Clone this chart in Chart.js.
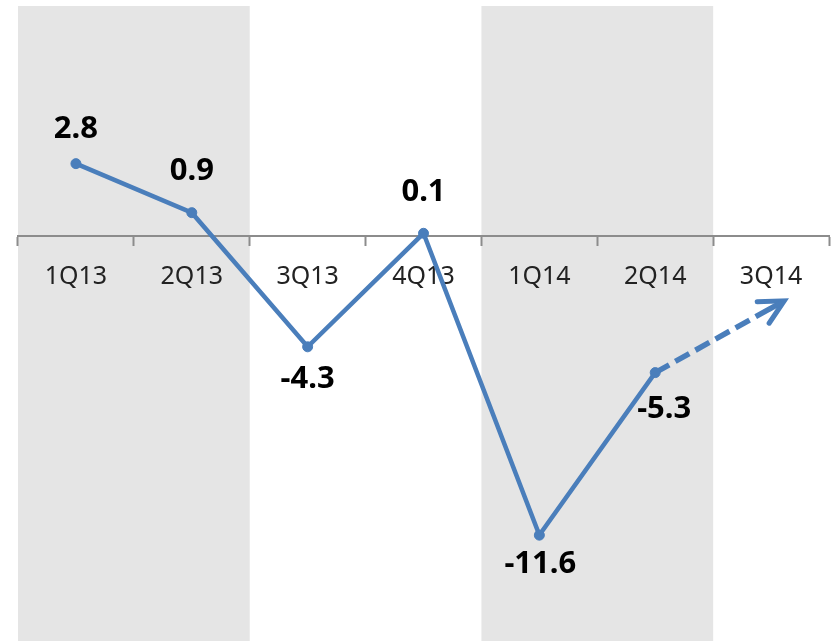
<!DOCTYPE html>
<html>
<head>
<meta charset="utf-8">
<script src="https://cdn.jsdelivr.net/npm/chart.js@4.4.1/dist/chart.umd.min.js"></script>
<style>
  html, body { margin: 0; padding: 0; background: #fff; }
  #wrap { width: 837px; height: 641px; position: relative; }
</style>
</head>
<body>
<div id="wrap"><canvas id="myChart"></canvas></div>
<script>
let quarters = ['1Q13', '2Q13', '3Q13', '4Q13', '1Q14', '2Q14', '3Q14'];
let actual = [2.8, 0.9, -4.3, 0.1, -11.6, -5.3, null];
let outlook = [null, null, null, null, null, -5.3, -2.8];
// shaded quarter pairs
let bands = [[0, 1], [4, 5]];

// vertical/horizontal nudge of each value label from its point
let labelDy = [-34, -41, 32, -41, 29, 37];
let labelDx = [0, 0, 0, 0, 1, 9];

let blue = '#4A7EBB';

let bandPlugin = {
  id: 'bands',
  beforeDraw(chart) {
    let ctx = chart.ctx;
    let x = chart.scales.x;
    let area = chart.chartArea;
    let half = (x.getPixelForValue(1) - x.getPixelForValue(0)) / 2;
    ctx.save();
    ctx.fillStyle = '#e5e5e5';
    for (let i = 0; i < bands.length; i++) {
      let x1 = x.getPixelForValue(bands[i][0]) - half;
      let x2 = x.getPixelForValue(bands[i][1]) + half;
      ctx.fillRect(x1, area.top, x2 - x1, chart.height - area.top);
    }
    ctx.restore();
  }
};

let labelPlugin = {
  id: 'valueLabels',
  afterDatasetsDraw(chart) {
    let ctx = chart.ctx;
    let meta = chart.getDatasetMeta(0);
    ctx.save();
    ctx.font = 'bold 31px "Noto Sans", sans-serif';
    ctx.fillStyle = '#000';
    ctx.textAlign = 'center';
    ctx.textBaseline = 'middle';
    for (let i = 0; i < actual.length; i++) {
      if (actual[i] === null) continue;
      let pt = meta.data[i];
      ctx.fillText(actual[i].toFixed(1), pt.x + labelDx[i], pt.y + labelDy[i]);
    }
    ctx.restore();

    // arrow head on the end of the dashed outlook line
    let m2 = chart.getDatasetMeta(1);
    let last = outlook.length - 1;
    let a = m2.data[last - 1];
    let b = m2.data[last];
    let ang = Math.atan2(b.y - a.y, b.x - a.x);
    let tipX = b.x + Math.cos(ang) * 15;
    let tipY = b.y + Math.sin(ang) * 15;
    let len = 27;
    let spread = 27 * Math.PI / 180;
    ctx.save();
    ctx.strokeStyle = blue;
    ctx.lineWidth = 5;
    ctx.lineCap = 'round';
    ctx.lineJoin = 'miter';
    ctx.beginPath();
    ctx.moveTo(tipX - Math.cos(ang - spread) * len, tipY - Math.sin(ang - spread) * len);
    ctx.lineTo(tipX, tipY);
    ctx.lineTo(tipX - Math.cos(ang + spread) * len, tipY - Math.sin(ang + spread) * len);
    ctx.stroke();
    ctx.lineCap = 'butt';
    ctx.lineWidth = 5.5;
    ctx.beginPath();
    ctx.moveTo(b.x - Math.cos(ang) * 2, b.y - Math.sin(ang) * 2);
    ctx.lineTo(tipX - Math.cos(ang) * 3, tipY - Math.sin(ang) * 3);
    ctx.stroke();
    ctx.restore();
  }
};

let chart = new Chart(document.getElementById('myChart'), {
  type: 'line',
  data: {
    labels: quarters,
    datasets: [
      {
        data: actual,
        borderColor: blue,
        backgroundColor: blue,
        borderWidth: 4.5,
        pointRadius: 5,
        pointBorderWidth: 1,
        pointBackgroundColor: blue,
        pointBorderColor: blue,
        tension: 0,
        order: 1
      },
      {
        data: outlook,
        borderColor: blue,
        borderWidth: 5.5,
        borderDash: [16, 7],
        pointRadius: 0,
        tension: 0,
        order: 2
      }
    ]
  },
  options: {
    responsive: true,
    maintainAspectRatio: false,
    animation: false,
    layout: { padding: { left: 18, right: 8, top: 5, bottom: 0 } },
    plugins: {
      legend: { display: false },
      tooltip: { enabled: false }
    },
    scales: {
      y: {
        display: false,
        min: -15.47,
        max: 8.91
      },
      x: {
        position: { y: 0 },
        offset: true,
        grid: {
          display: true,
          offset: true,
          drawOnChartArea: false,
          drawTicks: true,
          tickLength: 9,
          tickWidth: 2,
          tickColor: '#8c8c8c'
        },
        border: { display: true, color: '#8c8c8c', width: 2 },
        ticks: {
          padding: 17,
          color: '#222',
          maxRotation: 0,
          font: { family: '"Noto Sans", sans-serif', size: 25 }
        }
      }
    }
  },
  plugins: [bandPlugin, labelPlugin]
});
</script>
</body>
</html>
